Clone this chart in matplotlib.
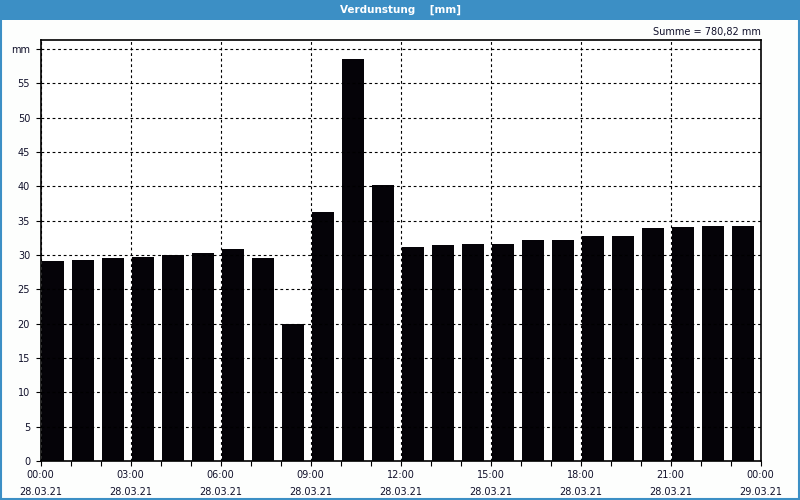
import matplotlib.pyplot as plt
from matplotlib.patches import Rectangle

# Stundenwerte Verdunstung 28.03.21 [mm]
stunden = list(range(24))
werte = [29.1, 29.25, 29.5, 29.7, 30.0, 30.3, 30.8, 29.6, 19.9, 36.2, 58.5, 40.2,
         31.1, 31.5, 31.65, 31.65, 32.25, 32.25, 32.7, 32.8, 33.9, 34.0, 34.2, 34.2]
tick_pos = [0, 3, 6, 9, 12, 15, 18, 21, 24]
tick_labels = ['00:00\n28.03.21', '03:00\n28.03.21', '06:00\n28.03.21', '09:00\n28.03.21',
               '12:00\n28.03.21', '15:00\n28.03.21', '18:00\n28.03.21', '21:00\n28.03.21',
               '00:00\n29.03.21']
y_ticks = [0, 5, 10, 15, 20, 25, 30, 35, 40, 45, 50, 55, 60]
y_labels = ['0', '5', '10', '15', '20', '25', '30', '35', '40', '45', '50', '55', 'mm']
summe_text = 'Summe = 780,82 mm'
titel = 'Verdunstung    [mm]'

textfarbe = '#10102a'
blau = '#3c8fc5'

plt.rcParams['font.family'] = ['DejaVu Sans']
fig = plt.figure(figsize=(8, 5), dpi=100)
fig.patch.set_facecolor('#fdfefd')

# Titelleiste und Rahmen
fig.patches.append(Rectangle((0, 1 - 20 / 500), 1, 20 / 500, transform=fig.transFigure,
                             facecolor=blau, edgecolor='none', zorder=0))
fig.patches.append(Rectangle((0.001, 0.002), 0.998, 0.996, transform=fig.transFigure,
                             facecolor='none', edgecolor=blau, linewidth=1.5, zorder=1))
fig.text(0.5, 1 - 10 / 500, titel, color='white', fontsize=7.5, fontweight='bold',
         ha='center', va='center')
fig.text(761 / 800, 1 - 32 / 500, summe_text, color=textfarbe, fontsize=7,
         ha='right', va='center')

ax = fig.add_axes([40.5 / 800, 39 / 500, 720 / 800, 421 / 500])
ax.set_facecolor('white')
ax.bar([h + 0.05 for h in stunden], werte, width=0.73, align='edge', color='#050308', zorder=1)

ax.set_xlim(0, 24)
ax.set_ylim(0, 61.3)
ax.set_xticks(tick_pos)
ax.set_xticklabels(tick_labels)
ax.set_xticks(stunden, minor=True)
ax.set_yticks(y_ticks)
ax.set_yticklabels(y_labels)

ax.tick_params(axis='both', which='both', direction='out', length=3.5, width=0.8,
               colors='black', labelcolor=textfarbe, labelsize=7)
ax.tick_params(axis='y', pad=4)
ax.tick_params(axis='x', pad=3)
for lbl in ax.get_xticklabels():
    lbl.set_linespacing(1.9)

ax.grid(True, which='major', color='black', linestyle=(0, (2.5, 2.5)), linewidth=0.8, zorder=2)
ax.set_axisbelow(False)
for s in ax.spines.values():
    s.set_color('black')
    s.set_linewidth(1.2)

fig.savefig('out.png', dpi=100, facecolor=fig.get_facecolor())
